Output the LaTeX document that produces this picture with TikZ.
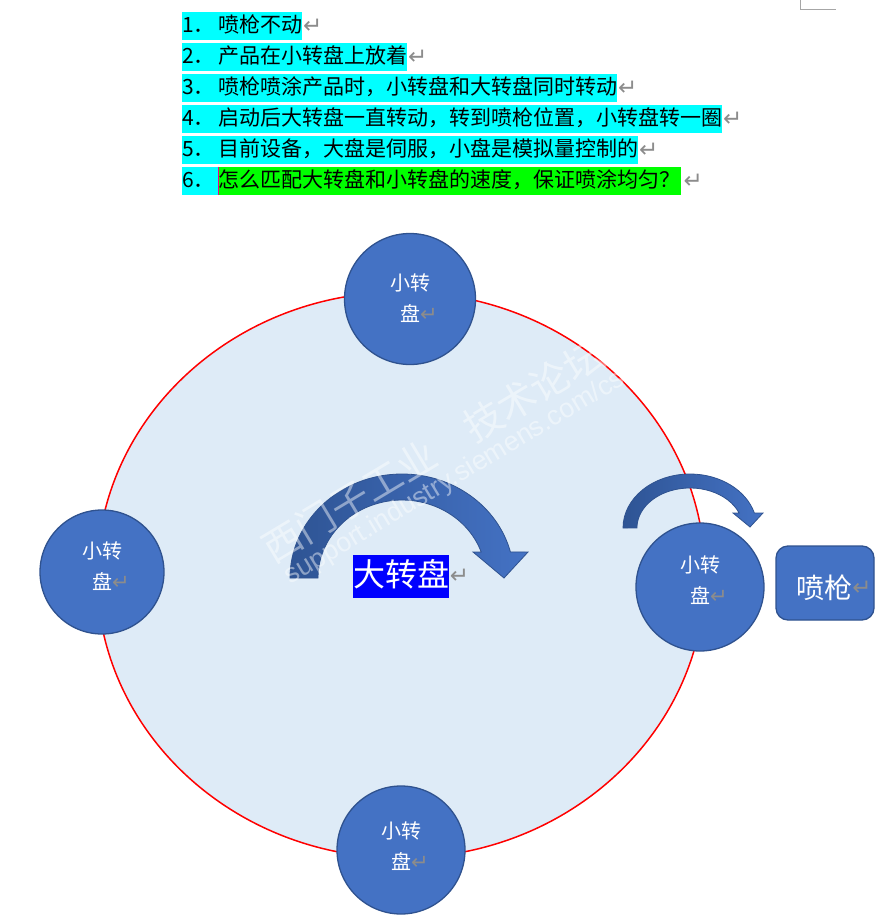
\documentclass[tikz,border=0pt]{standalone}
\usepackage{fontspec}
\setmainfont{Noto Sans CJK SC}
\newfontfamily\dv{DejaVu Sans}
\newfontfamily\lsans{Liberation Sans}
\definecolor{hlcyan}{HTML}{00FFFF}
\definecolor{hlgreen}{HTML}{00FF00}
\definecolor{plate}{HTML}{DEEBF7}
\definecolor{diskfill}{HTML}{4472C4}
\definecolor{diskline}{HTML}{2F528F}
\definecolor{arrdark}{HTML}{2E5494}
\definecolor{retgray}{HTML}{8C8C8C}
\definecolor{cornergray}{HTML}{A6A6A6}
\begin{document}
\begin{tikzpicture}[x=1pt,y=-1pt,
  li/.style={anchor=north west, inner sep=0pt, minimum height=28pt, text height=17pt, text depth=4pt, font=\fontsize{21}{21}\selectfont},
  ret/.style={anchor=west, inner sep=0.5pt, text=retgray, font=\dv\fontsize{23}{23}\selectfont},
  disk/.style={circle, draw=diskline, fill=diskfill, line width=1.3pt, inner sep=0pt},
  ctext/.style={text=white, align=center, inner sep=0pt, font=\fontsize{20}{31}\selectfont},
  arrowshade/.style={left color=arrdark, right color=diskfill, draw=diskline, line width=0.8pt},
  wm/.style={text=white, opacity=0.45, inner sep=0pt}
]
\useasboundingbox (0,0) rectangle (883,920);

% page corner mark
\coordinate (ca) at (800.5,0);
\coordinate (cb) at (800.5,10);
\coordinate (cc) at (836,10);
\draw[cornergray, line width=1pt] (ca) -- (cb) -- (cc);

% text list
\node[li, fill=hlcyan] (l1) at (182,12) {\makebox[36pt][l]{1．}喷枪不动};
\node[ret] (r1) at (l1.east) {↵};
\node[li, fill=hlcyan] (l2) at (182,43) {\makebox[36pt][l]{2．}产品在小转盘上放着};
\node[ret] (r2) at (l2.east) {↵};
\node[li, fill=hlcyan] (l3) at (182,74) {\makebox[36pt][l]{3．}喷枪喷涂产品时，小转盘和大转盘同时转动};
\node[ret] (r3) at (l3.east) {↵};
\node[li, fill=hlcyan] (l4) at (182,105) {\makebox[36pt][l]{4．}启动后大转盘一直转动，转到喷枪位置，小转盘转一圈};
\node[ret] (r4) at (l4.east) {↵};
\node[li, fill=hlcyan] (l5) at (182,136) {\makebox[36pt][l]{5．}目前设备，大盘是伺服，小盘是模拟量控制的};
\node[ret] (r5) at (l5.east) {↵};
\node[li, fill=hlcyan] (l6n) at (182,167) {\makebox[36pt][l]{6．}};
\node[li, fill=hlgreen, anchor=north west] (l6) at (l6n.north east) {怎么匹配大转盘和小转盘的速度，保证喷涂均匀？};
\draw[magenta, line width=1.2pt] (l6.north west) -- (l6.south west);
\node[ret, xshift=2pt] (r6) at (l6.east) {↵};

% big turntable
\draw[red, line width=1.5pt, fill=plate] (401,575) ellipse [x radius=304, y radius=283];

% big curved arrow
\path[arrowshade] (290,578) arc[start angle=180, end angle=345.5, x radius=112, y radius=104]
  -- (528,552) -- (504,578) -- (473,552) -- (481.2,552)
  arc[start angle=340.5, end angle=180, x radius=84, y radius=78] -- cycle;

% small curved arrow
\path[arrowshade] (623,528) arc[start angle=180, end angle=343.9, x radius=67, y radius=54]
  -- (763,513) -- (750,527) -- (733,513) -- (739.1,513)
  arc[start angle=338, end angle=180, x radius=53, y radius=40] -- cycle;

% small turntables
\node[disk, minimum size=131pt] (dtop) at (410,299) {};
\node[disk, minimum size=124pt] (dleft) at (102,572) {};
\node[disk, minimum size=128pt] (dbot) at (401,850) {};
\node[disk, minimum size=128pt] (dright) at (700,587) {};

\node[ctext] (ttop) at (410,298) {小转\\盘\rlap{\dv\color{retgray}\fontsize{21}{21}\selectfont ↵}};
\node[ctext] (tleft) at (102,566) {小转\\盘\rlap{\dv\color{retgray}\fontsize{21}{21}\selectfont ↵}};
\node[ctext] (tbot) at (401,846) {小转\\盘\rlap{\dv\color{retgray}\fontsize{21}{21}\selectfont ↵}};
\node[ctext] (tright) at (700,580) {小转\\盘\rlap{\dv\color{retgray}\fontsize{21}{21}\selectfont ↵}};

% spray gun box
\node[draw=diskline, fill=diskfill, line width=1.3pt, rounded corners=12pt, minimum width=98pt, minimum height=74pt, inner sep=0pt] (gun) at (825,583) {};
\node[text=white, inner sep=0pt, font=\fontsize{28}{28}\selectfont] (guntext) at (824,588) {喷枪};
\node[ret, inner sep=0pt] (gunret) at (guntext.east) {↵};

% watermark
\node[wm, rotate=31, font=\fontsize{39}{39}\selectfont] (wm1) at (433,451) {西门子工业\hspace{1em}技术论坛};
\node[wm, rotate=31, font=\lsans\fontsize{27}{27}\selectfont] (wm2) at (455,478) {support.industry.siemens.com/cs};

% big turntable label
\node[fill=blue, text=white, inner sep=0pt, minimum height=43pt, text height=25pt, text depth=6pt, font=\fontsize{32}{32}\selectfont] (big) at (401,576.5) {大转盘};
\node[ret] (bigret) at (big.east) {↵};
\end{tikzpicture}
\end{document}
